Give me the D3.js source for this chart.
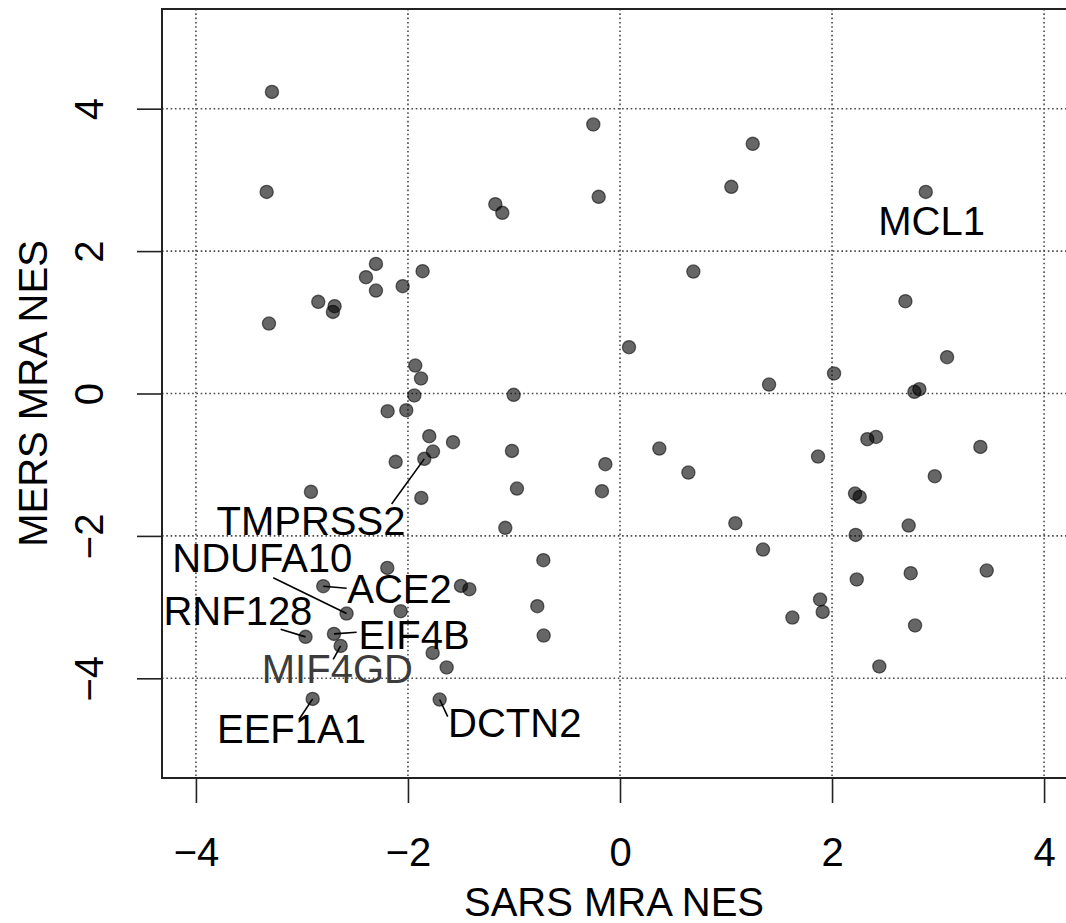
<!DOCTYPE html>
<html>
<head>
<meta charset="utf-8">
<script src="https://cdn.jsdelivr.net/npm/d3@7"></script>
<style>
  html, body { margin: 0; padding: 0; background: #fff; }
  svg { display: block; }
  text { font-family: "Liberation Sans", Arial, Helvetica, sans-serif; }
</style>
</head>
<body>
<svg id="chart" width="1066" height="923"></svg>
<script>
// ---- data ----
const sarsNES = [-3.283,-0.252,-3.333,-1.176,-1.110,-0.201,1.252,1.050,2.884,-2.302,-2.396,-1.862,-2.302,-2.050,-2.846,-2.692,-2.708,-3.311,0.692,2.692,0.085,3.085,-1.931,-1.877,-1.940,-1.003,1.406,2.019,2.777,2.824,
  -2.192,-2.016,-1.799,-1.575,-1.764,-1.846,-2.116,-1.019,-2.915,-1.874,-0.972,-1.082,-0.138,-0.170,0.371,0.645,1.868,2.333,2.415,3.399,2.969,2.217,2.261,1.088,2.723,2.223,1.349,-2.195,-2.799,-1.500,-1.421,-0.723,-2.579,-2.069,-0.780,-0.720,-2.966,-2.698,-2.635,-1.767,-1.635,-2.899,-1.701,2.742,3.459,2.233,1.887,1.626,1.912,2.783,2.446];
const mersNES = [4.236,3.778,2.831,2.659,2.537,2.762,3.506,2.902,2.831,1.820,1.633,1.718,1.446,1.507,1.287,1.226,1.146,0.983,1.713,1.296,0.650,0.510,0.393,0.211,-0.028,-0.019,0.126,0.281,0.023,0.060,
  -0.249,-0.235,-0.600,-0.684,-0.815,-0.918,-0.960,-0.806,-1.381,-1.466,-1.335,-1.887,-0.993,-1.372,-0.773,-1.110,-0.885,-0.642,-0.610,-0.750,-1.162,-1.405,-1.452,-1.822,-1.854,-1.986,-2.191,-2.449,-2.706,-2.702,-2.749,-2.341,-3.090,-3.058,-2.987,-3.399,-3.418,-3.376,-3.545,-3.643,-3.848,-4.289,-4.298,-2.524,-2.486,-2.612,-2.893,-3.146,-3.067,-3.258,-3.834];

const labelGenes  = ["MCL1","TMPRSS2","NDUFA10","ACE2","RNF128","EIF4B","MIF4GD","EEF1A1","DCTN2"];
const labelPoint  = [8, 35, 62, 58, 66, 67, 68, 71, 72];
// label anchor (data units, text centre)
const labelX = [2.939,-2.915,-3.374,-2.080,-3.604,-1.943,-2.666,-3.099,-0.993];
const labelY = [2.427,-1.787,-2.302,-2.742,-3.051,-3.388,-3.865,-4.704,-4.619];
// leader line end (data units); null = no line
const lineEndX = [null,-2.154,-3.271,-2.578,-3.201,-2.484,-2.705,-3.028,-1.625];
const lineEndY = [null,-1.552,-2.587,-2.736,-3.312,-3.354,-3.733,-4.579,-4.539];
const labelColor = ["#000","#000","#000","#000","#000","#000","#3c3c3c","#000","#000"];

const xTicks = [-4,-2,0,2,4];
const yTicks = [-4,-2,0,2,4];
const xTitle = "SARS MRA NES";
const yTitle = "MERS MRA NES";

(function () {
// ---- layout ----
const svg = d3.select("#chart");
const pL = 162, pR = 1078, pT = 9, pB = 778;
const x = d3.scaleLinear().domain([-4.32, 4.32]).range([pL, pR]);
const y = d3.scaleLinear().domain([-5.40, 5.40]).range([pB, pT]);
const FS = 40;
const fmt = d => d < 0 ? "\u2212" + Math.abs(d) : String(d);

// grid
const grid = svg.append("g");
grid.selectAll("line.v").data(xTicks).join("line").attr("class", "v")
  .attr("x1", d => x(d)).attr("x2", d => x(d))
  .attr("y1", pT).attr("y2", pB)
  .attr("stroke", "#4a4a4a").attr("stroke-width", 1.6).attr("stroke-dasharray", "1.6 2.7");
grid.selectAll("line.h").data(yTicks).join("line").attr("class", "h")
  .attr("y1", d => y(d)).attr("y2", d => y(d))
  .attr("x1", pL).attr("x2", pR)
  .attr("stroke", "#4a4a4a").attr("stroke-width", 1.6).attr("stroke-dasharray", "1.6 2.7");

// axes
const xAxis = d3.axisBottom(x).tickValues(xTicks).tickSize(25).tickFormat(fmt);
const gx = svg.append("g").attr("transform", `translate(0,${pB})`).call(xAxis);
gx.select(".domain").remove();
gx.selectAll(".tick line").attr("stroke", "#222").attr("stroke-width", 1.6);
gx.selectAll(".tick text").attr("font-size", FS).attr("fill", "#000")
  .attr("font-family", "Liberation Sans, Arial, sans-serif").attr("dy", null).attr("y", 88);

const yAxis = d3.axisLeft(y).tickValues(yTicks).tickSize(25).tickFormat(fmt);
const gy = svg.append("g").attr("transform", `translate(${pL},0)`).call(yAxis);
gy.select(".domain").remove();
gy.selectAll(".tick line").attr("stroke", "#222").attr("stroke-width", 1.6);
gy.selectAll(".tick text").attr("font-size", FS).attr("fill", "#000")
  .attr("font-family", "Liberation Sans, Arial, sans-serif")
  .attr("x", null).attr("dy", null).attr("text-anchor", "middle")
  .attr("transform", "translate(-59,0) rotate(-90)");

// box
svg.append("rect").attr("x", pL).attr("y", pT)
  .attr("width", pR - pL).attr("height", pB - pT)
  .attr("fill", "none").attr("stroke", "#222").attr("stroke-width", 2);

// titles
svg.append("text").attr("x", (pL + pR) / 2 - 6).attr("y", 916)
  .attr("text-anchor", "middle").attr("font-size", FS).text(xTitle);
svg.append("text").attr("transform", `translate(47,${(pT + pB) / 2}) rotate(-90)`)
  .attr("text-anchor", "middle").attr("font-size", FS).text(yTitle);

// leader lines
const labels = labelGenes.map((g, i) => ({g, i, p: labelPoint[i]}));
svg.append("g").selectAll("line").data(labels.filter(d => lineEndX[d.i] !== null)).join("line")
  .attr("x1", d => x(sarsNES[d.p])).attr("y1", d => y(mersNES[d.p]))
  .attr("x2", d => x(lineEndX[d.i])).attr("y2", d => y(lineEndY[d.i]))
  .attr("stroke", "#000").attr("stroke-width", 1.6);

// points
svg.append("g").selectAll("circle").data(sarsNES.map((v, i) => [v, mersNES[i]])).join("circle")
  .attr("cx", d => x(d[0])).attr("cy", d => y(d[1])).attr("r", 6.6)
  .attr("fill", "rgba(0,0,0,0.6)").attr("stroke", "rgba(0,0,0,0.55)").attr("stroke-width", 1.3);

// labels
svg.append("g").selectAll("text").data(labels).join("text")
  .attr("x", d => x(labelX[d.i])).attr("y", d => y(labelY[d.i]))
  .attr("dy", "0.358em").attr("text-anchor", "middle")
  .attr("font-size", FS).attr("fill", d => labelColor[d.i]).text(d => d.g);
})();
</script>
</body>
</html>
